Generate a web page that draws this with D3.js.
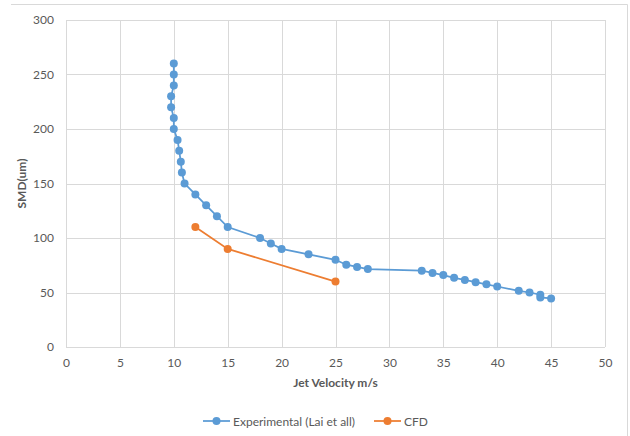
<!DOCTYPE html>
<html>
<head>
<meta charset="utf-8">
<script src="https://cdn.jsdelivr.net/npm/d3@7"></script>
<style>
  html, body { margin: 0; padding: 0; background: #fff; }
  svg { display: block; font-family: Lato, "Liberation Sans", sans-serif; }
</style>
</head>
<body>
<svg id="chart" width="630" height="436"></svg>
<script>
// Experimental droplet sizes (Lai et al) against jet velocity
const expVelocity = [10, 10, 10, 9.75, 9.75, 10, 10, 10.35, 10.5, 10.65, 10.75, 11, 12, 13, 14, 15,
  18, 19, 20, 22.5, 25, 26, 27, 28, 33, 34, 35, 36, 37, 38, 39, 40, 42, 43, 44, 44, 45];
const expSMD = [260, 250, 240, 230, 220, 210, 200, 190, 180, 170, 160, 150, 140, 130, 120, 110,
  100, 95, 90, 85, 80, 75.5, 73.5, 71.5, 70, 68, 66, 63.5, 61.5, 59.5, 57.5, 55.5, 51.5, 50, 48, 45.5, 44.5];

// CFD predictions
const cfdVelocity = [12, 15, 25];
const cfdSMD = [110, 90, 60];

const xTicks = [0, 5, 10, 15, 20, 25, 30, 35, 40, 45, 50];
const yTicks = [0, 50, 100, 150, 200, 250, 300];

const seriesNames = ["Experimental (Lai et all)", "CFD"];
const seriesColors = ["#5B9BD5", "#ED7D31"];

const svg = d3.select("#chart");
const plot = { left: 66, right: 605, top: 20, bottom: 347 };

const x = d3.scaleLinear().domain([0, 50]).range([plot.left, plot.right]);
const y = d3.scaleLinear().domain([0, 300]).range([plot.bottom, plot.top]);

// chart frame
svg.append("path")
  .attr("d", `M11,4.5 H627.5 V436`)
  .attr("fill", "none").attr("stroke", "#D9D9D9").attr("stroke-width", 1);

// gridlines
const grid = svg.append("g").attr("stroke", "#D9D9D9").attr("stroke-width", 1);
grid.selectAll("line.v").data(xTicks).join("line")
  .attr("x1", d => Math.round(x(d)) + 0.5).attr("x2", d => Math.round(x(d)) + 0.5)
  .attr("y1", plot.top).attr("y2", plot.bottom);
grid.selectAll("line.h").data(yTicks).join("line")
  .attr("x1", plot.left).attr("x2", plot.right)
  .attr("y1", d => Math.round(y(d)) + 0.5).attr("y2", d => Math.round(y(d)) + 0.5);

// axes (labels only; lines come from the grid)
const xAxis = svg.append("g").attr("transform", `translate(0,${plot.bottom})`)
  .call(d3.axisBottom(x).tickValues(xTicks).tickSize(0).tickPadding(11));
const yAxis = svg.append("g").attr("transform", `translate(${plot.left},0)`)
  .call(d3.axisLeft(y).tickValues(yTicks).tickSize(0).tickPadding(12));
[xAxis, yAxis].forEach(a => {
  a.select(".domain").remove();
  a.selectAll("text").attr("fill", "#595959").style("font-size", "12px").style("font-family", "Lato, 'Liberation Sans', sans-serif");
});

// axis titles
svg.append("text")
  .attr("x", (plot.left + plot.right) / 2).attr("y", 387)
  .attr("text-anchor", "middle").attr("fill", "#595959")
  .style("font-size", "12px").style("font-weight", "bold")
  .text("Jet Velocity m/s");
svg.append("text")
  .attr("transform", `translate(26,${(plot.top + plot.bottom) / 2}) rotate(-90)`)
  .attr("text-anchor", "middle").attr("fill", "#595959")
  .style("font-size", "12px").style("font-weight", "bold")
  .text("SMD(um)");

// series
const series = [
  { xs: expVelocity, ys: expSMD, color: seriesColors[0] },
  { xs: cfdVelocity, ys: cfdSMD, color: seriesColors[1] }
];
const line = d3.line().x(d => x(d[0])).y(d => y(d[1]));
series.forEach(s => {
  const pts = s.xs.map((v, i) => [v, s.ys[i]]);
  svg.append("path").datum(pts)
    .attr("d", line).attr("fill", "none")
    .attr("stroke", s.color).attr("stroke-width", 1.75);
  svg.append("g").selectAll("circle").data(pts).join("circle")
    .attr("cx", d => x(d[0])).attr("cy", d => y(d[1])).attr("r", 4)
    .attr("fill", s.color);
});

// legend
const legendItems = [
  { name: seriesNames[0], color: seriesColors[0], x0: 203 },
  { name: seriesNames[1], color: seriesColors[1], x0: 374 }
];
const ly = 421;
legendItems.forEach(it => {
  const g = svg.append("g");
  g.append("line").attr("x1", it.x0).attr("x2", it.x0 + 27).attr("y1", ly).attr("y2", ly)
    .attr("stroke", it.color).attr("stroke-width", 1.75);
  g.append("circle").attr("cx", it.x0 + 13.5).attr("cy", ly).attr("r", 4).attr("fill", it.color);
  g.append("text").attr("x", it.x0 + 30).attr("y", ly + 4.5)
    .attr("fill", "#595959").style("font-size", "12px").text(it.name);
});
</script>
</body>
</html>
